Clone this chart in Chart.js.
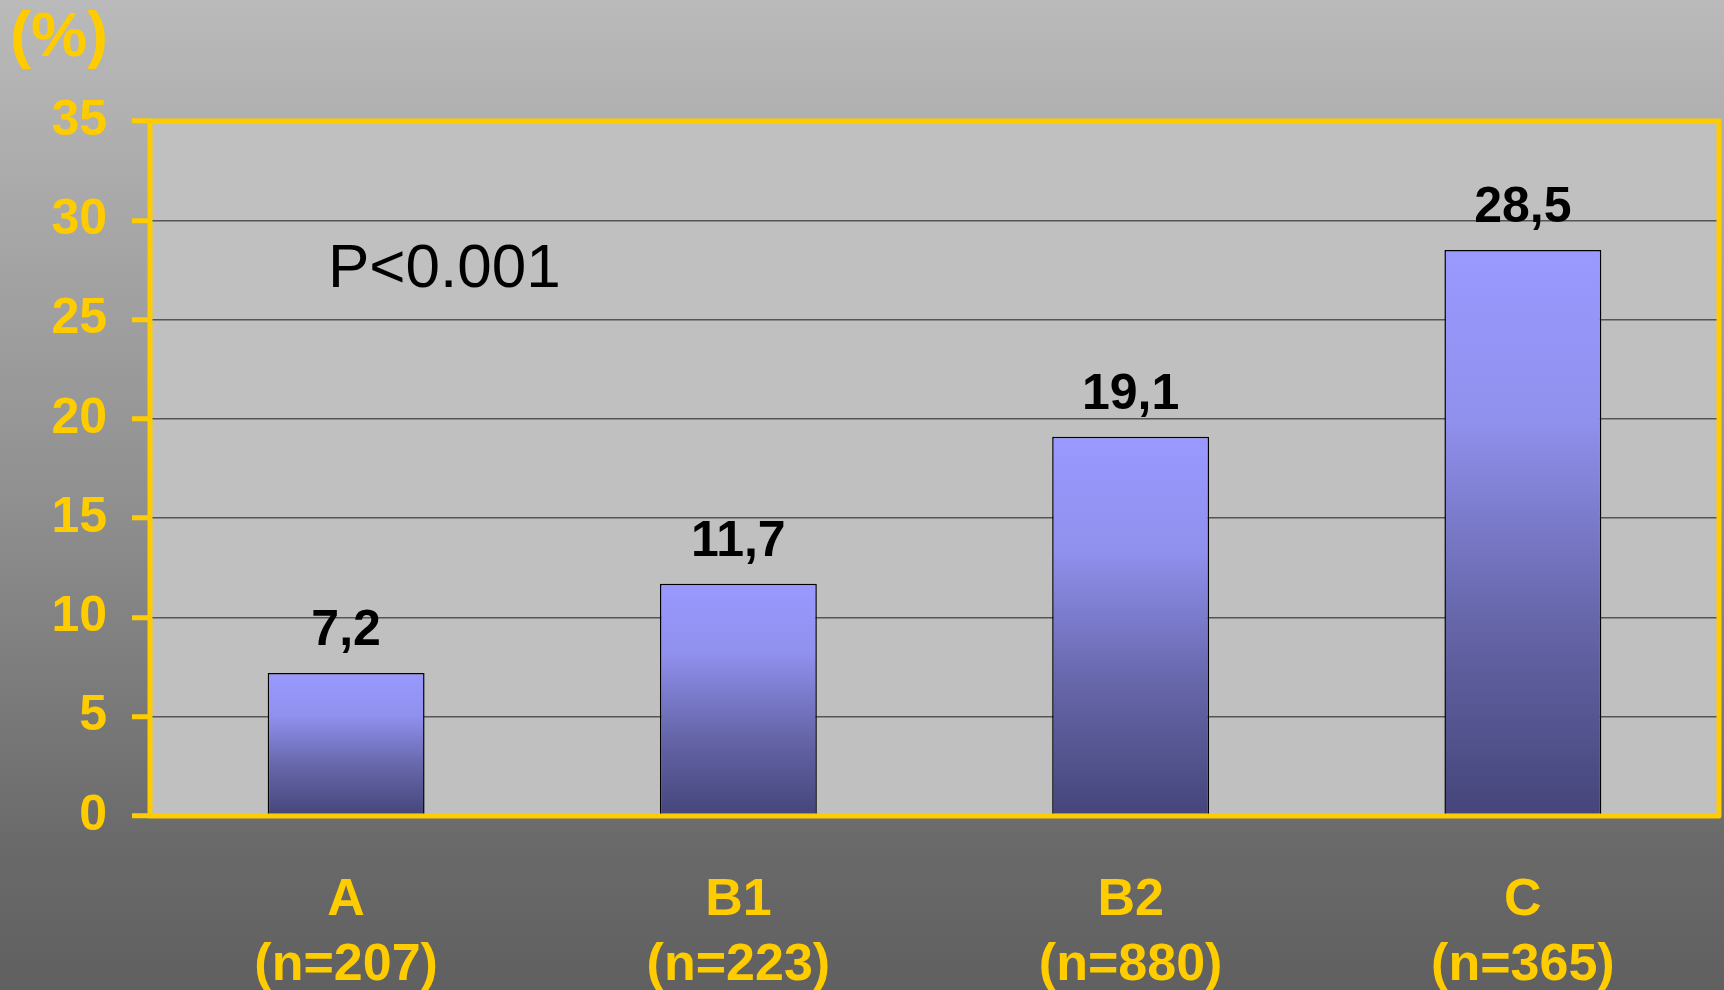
<!DOCTYPE html>
<html>
<head>
<meta charset="utf-8">
<title>Bar chart (%)</title>
<script src="https://cdn.jsdelivr.net/npm/chart.js"></script>
<style>
  html, body { margin: 0; padding: 0; background: #888; }
  canvas { display: block; }
</style>
</head>
<body>
<canvas id="barChart" width="1724" height="990"></canvas>
<script>
// chart data
const categories = [['A', '(n=207)'], ['B1', '(n=223)'], ['B2', '(n=880)'], ['C', '(n=365)']];
const percentValues = [7.2, 11.7, 19.1, 28.5];
const yMin = 0;
const yMax = 35;
const yStep = 5;
const unitLabel = '(%)';
const pValueText = 'P<0.001';

const FONT = '"Liberation Sans", Arial, sans-serif';
const YELLOW = '#ffcc00';

// background of page + grey plot area
const backgroundPlugin = {
  id: 'background',
  beforeDraw(chart) {
    const c = chart.ctx;
    const g = c.createLinearGradient(0, 0, 0, chart.height);
    g.addColorStop(0, '#bababa');
    g.addColorStop(0.5, '#909090');
    g.addColorStop(0.85, '#6a6a6a');
    g.addColorStop(1, '#606060');
    c.save();
    c.fillStyle = g;
    c.fillRect(0, 0, chart.width, chart.height);
    const a = chart.chartArea;
    c.fillStyle = '#c0c0c0';
    c.fillRect(a.left, a.top, a.right - a.left, a.bottom - a.top);
    c.restore();
  }
};

// yellow frame, value labels and the extra texts
const overlayPlugin = {
  id: 'overlay',
  afterDatasetsDraw(chart) {
    const c = chart.ctx;
    const a = chart.chartArea;
    c.save();
    c.strokeStyle = YELLOW;
    c.lineWidth = 5;
    c.lineJoin = 'round';
    c.strokeRect(a.left, a.top, a.right - a.left, a.bottom - a.top);

    // value labels above the bars
    c.fillStyle = '#000';
    c.font = 'bold 50px ' + FONT;
    c.textAlign = 'center';
    c.textBaseline = 'alphabetic';
    chart.getDatasetMeta(0).data.forEach((bar, i) => {
      const txt = percentValues[i].toFixed(1).replace('.', ',');
      c.fillText(txt, bar.x, bar.y - 28);
    });

    // p value
    c.font = '62px ' + FONT;
    c.textAlign = 'left';
    c.fillText(pValueText, 328, 287);

    // unit
    c.fillStyle = YELLOW;
    c.font = 'bold 63px ' + FONT;
    c.fillText(unitLabel, 10, 56);
    c.restore();
  }
};

function barGradient(context) {
  const chart = context.chart;
  const area = chart.chartArea;
  if (!area || context.type !== 'data') return '#9999ff';
  const y = chart.scales.y;
  const top = y.getPixelForValue(percentValues[context.dataIndex]);
  const bottom = y.getPixelForValue(0);
  const g = chart.ctx.createLinearGradient(0, top, 0, bottom);
  g.addColorStop(0, '#9999ff');
  g.addColorStop(0.3, '#9090ee');
  g.addColorStop(0.65, '#6666aa');
  g.addColorStop(1, '#45457a');
  return g;
}

const ctx = document.getElementById('barChart').getContext('2d');
new Chart(ctx, {
  type: 'bar',
  data: {
    labels: categories,
    datasets: [{
      data: percentValues,
      backgroundColor: barGradient,
      borderColor: '#000',
      borderWidth: 1.5,
      borderSkipped: false,
      barPercentage: 0.4,
      categoryPercentage: 1
    }]
  },
  options: {
    responsive: false,
    animation: false,
    layout: { padding: { top: 121, right: 5, bottom: 0, left: 0 } },
    plugins: {
      legend: { display: false },
      tooltip: { enabled: false },
      title: { display: false }
    },
    scales: {
      x: {
        grid: { display: false, drawTicks: false },
        border: { display: false },
        ticks: {
          color: YELLOW,
          padding: 52,
          font: { family: FONT, size: 52, weight: 'bold', lineHeight: 1.25 }
        },
        afterFit(scale) { scale.height = 174; }
      },
      y: {
        min: yMin,
        max: yMax,
        grid: {
          color: '#555',
          lineWidth: 1.5,
          tickColor: YELLOW,
          tickWidth: 5,
          tickLength: 18
        },
        border: { display: false },
        ticks: {
          stepSize: yStep,
          color: YELLOW,
          padding: 25,
          font: { family: FONT, size: 50, weight: 'bold' }
        },
        afterFit(scale) { scale.width = 150; }
      }
    }
  },
  plugins: [backgroundPlugin, overlayPlugin]
});
</script>
</body>
</html>
